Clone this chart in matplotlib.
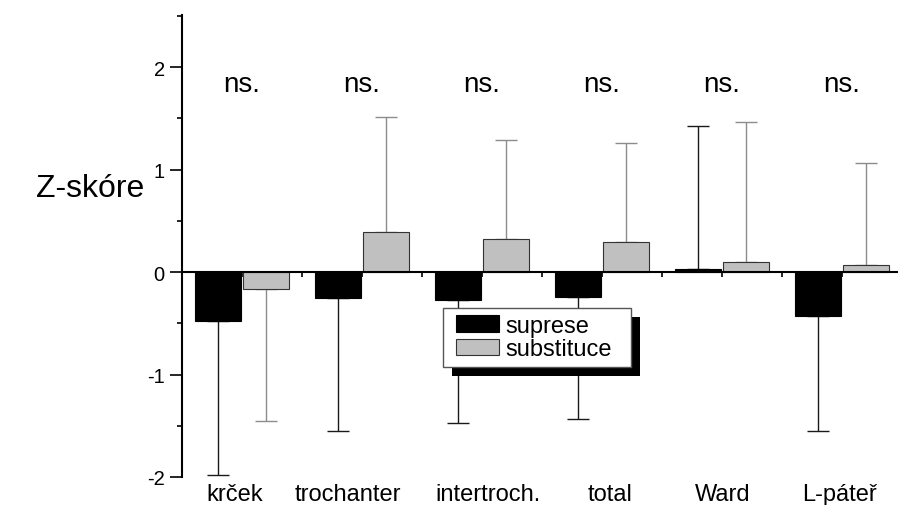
import numpy as np
import matplotlib
matplotlib.use("Agg")
import matplotlib.pyplot as plt
from matplotlib.patches import Rectangle
from matplotlib.transforms import IdentityTransform

plt.rcParams['font.family'] = ['Liberation Sans', 'DejaVu Sans']

categories = ["krček", "trochanter", "intertroch.", "total", "Ward", "L-páteř"]
suprese = [-0.48, -0.25, -0.27, -0.24, 0.03, -0.43]
suprese_sd = [1.50, 1.30, 1.20, 1.19, 1.40, 1.12]
substituce = [-0.16, 0.39, 0.32, 0.29, 0.10, 0.07]
substituce_sd = [1.29, 1.12, 0.97, 0.97, 1.37, 1.00]
annotations = ["ns.", "ns.", "ns.", "ns.", "ns.", "ns."]
yticks = [-2, -1, 0, 1, 2]

# layout only: small horizontal nudges (pixels) of the category labels
label_nudge = [-7, -14, 6, 8, 1, -2]

W, H = 898, 506
fig = plt.figure(figsize=(W / 100, H / 100), dpi=100)
ax = fig.add_axes([182 / W, 28 / H, (W - 182) / W, 462 / H])

x = np.arange(len(categories))
bw = 0.39
xs = x + 0.3
xg = x + 0.7

def one_sided(vals, sds):
    vals = np.asarray(vals); sds = np.asarray(sds)
    lower = np.where(vals < 0, sds, 0)
    upper = np.where(vals >= 0, sds, 0)
    return [lower, upper]

ax.errorbar(xs, suprese, yerr=one_sided(suprese, suprese_sd), fmt='none',
            ecolor='#1a1a1a', elinewidth=1.0, capsize=8, capthick=1.0, zorder=1)
ax.errorbar(xg, substituce, yerr=one_sided(substituce, substituce_sd), fmt='none',
            ecolor='#8c8c8c', elinewidth=1.0, capsize=8, capthick=1.0, zorder=1)

ax.bar(xs, suprese, width=bw, color='black', edgecolor='black', linewidth=0.8,
       label='suprese', zorder=2)
ax.bar(xg, substituce, width=bw, color='#c0c0c0', edgecolor='#333333', linewidth=0.8,
       label='substituce', zorder=2)

for xi, t in zip(x + 0.5, annotations):
    ax.text(xi, 1.84, t, ha='center', va='center', fontsize=20)

for xi, c, dx in zip(x + 0.5, categories, label_nudge):
    ax.annotate(c, xy=(xi, 0), xycoords=('data', 'axes fraction'),
                xytext=(dx, -17), textcoords='offset pixels',
                ha='center', va='center', fontsize=17)

ax.set_xlim(0, (W - 182) / 120)
ax.set_ylim(-2, 2.51)

ax.spines['top'].set_visible(False)
ax.spines['right'].set_visible(False)
ax.spines['bottom'].set_position(('data', 0))
ax.spines['left'].set_linewidth(1.5)
ax.spines['bottom'].set_linewidth(1.5)

ax.set_yticks(yticks)
ax.set_yticklabels([str(v) for v in yticks])
ax.set_yticks(np.arange(-1.5, 2.6, 1.0), minor=True)
ax.tick_params(axis='y', which='major', length=8.4, width=1.2, pad=4, labelsize=14.5, direction='out')
ax.tick_params(axis='y', which='minor', length=3.6, width=1.2, direction='out')

ax.set_xticks(np.arange(0.5, 6.0, 0.5))
ax.set_xticklabels([])
ax.tick_params(axis='x', which='major', length=3.6, width=1.2, direction='out')

fig.text(90 / W, 1 - 189 / H, "Z-skóre", ha='center', va='center', fontsize=23)

leg = ax.legend(loc='upper left', bbox_to_anchor=(0.3729, 0.366), borderaxespad=0,
                fontsize=17, frameon=False,
                handlelength=1.82, handleheight=0.72, handletextpad=0.25,
                borderpad=0.3, labelspacing=0.05)
leg.set_zorder(5)

fig.canvas.draw()
bb = leg.get_window_extent()
fx0, fy0 = bb.x0 - 6, bb.y0
fw, fh = bb.width + 18, bb.height
frame = Rectangle((fx0, fy0), fw, fh, transform=IdentityTransform(),
                  facecolor='white', edgecolor='#555555', linewidth=1.0, zorder=4.95)
shadow = Rectangle((fx0 + 9, fy0 - 9), fw, fh, transform=IdentityTransform(),
                   facecolor='black', edgecolor='none', zorder=4.9)
for p in (shadow, frame):
    ax.add_patch(p)
    p.set_clip_on(False)
ax.set_xlim(0, (W - 182) / 120)
ax.set_ylim(-2, 2.51)

fig.savefig("out.png", dpi=100)
